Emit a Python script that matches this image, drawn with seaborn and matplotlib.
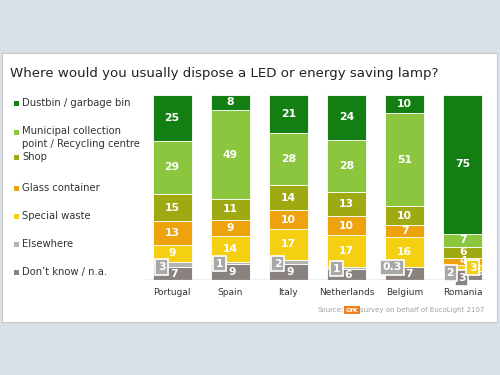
import numpy as np
import pandas as pd
import seaborn as sns
import matplotlib.pyplot as plt
from matplotlib.patches import Rectangle

countries = ["Portugal", "Spain", "Italy", "Netherlands", "Belgium", "Romania"]
# stacked from bottom to top
categories = ["Don\u2019t know / n.a.", "Elsewhere", "Special waste", "Glass container",
              "Shop", "Municipal collection\npoint / Recycling centre", "Dustbin / garbage bin"]
dont_know = [7, 9, 9, 6, 7, 3]
elsewhere = [3, 1, 2, 1, 0.3, 2]
special_waste = [9, 14, 17, 17, 16, 3]
glass = [13, 9, 10, 10, 7, 4]
shop = [15, 11, 14, 13, 10, 6]
municipal = [29, 49, 28, 28, 51, 7]
dustbin = [25, 8, 21, 24, 10, 75]
colors = ["#8a827e", "#b3b3b3", "#f4cf12", "#eea20c", "#9faa12", "#8cc63e", "#137f13"]

values = [dont_know, elsewhere, special_waste, glass, shop, municipal, dustbin]
df = pd.DataFrame({c: v for c, v in zip(categories, values)}, index=countries)
# bars are drawn as 100% stacks, labels keep the survey values
share = df.div(df.sum(axis=1), axis=0) * 100

sns.set_style("white")
fig = plt.figure(figsize=(5, 3.75), dpi=100, facecolor="#d9e0e8")
# white slide panel
fig.patches.append(Rectangle((2 / 500, 1 - 322 / 375), 495 / 500, 269 / 375,
                             transform=fig.transFigure, facecolor="white",
                             edgecolor="#c9c9c9", lw=0.8, zorder=-5))
fig.text(10 / 500, 1 - 73 / 375, "Where would you usually dispose a LED or energy saving lamp?",
         fontsize=9.6, color="#222222", va="center", ha="left")

ax = fig.add_axes([143 / 500, 1 - 280 / 375, 349 / 500, 185 / 375])
ax.patch.set_alpha(0)
bottom = np.zeros(len(countries))
for cat, col in zip(categories, colors):
    sns.barplot(x=countries, y=share[cat].values, bottom=bottom, color=col, width=0.67,
                edgecolor="white", linewidth=0.6, ax=ax, saturation=1)
    bottom = bottom + share[cat].values
ax.set_xlim(-0.5, 5.5)
ax.set_ylim(0, 100)
ax.axhline(0, xmin=0.005, xmax=0.98, color="#b0b0b0", lw=1)
for s in ax.spines.values():
    s.set_visible(False)
ax.set_yticks([])
ax.tick_params(axis="x", length=0, labelsize=6.5, labelcolor="#333333", pad=6)

lab = dict(color="white", fontsize=7.8, fontweight="bold", ha="center", va="center")
box = dict(boxstyle="square,pad=0.25", fc="#a8a8a8", ec="white", lw=1.2)
for i, c in enumerate(countries):
    base = 0.0
    for k, cat in enumerate(categories):
        v = df.loc[c, cat]
        h = share.loc[c, cat]
        mid = base + h / 2
        if c == "Romania" and k <= 2:
            if k == 0:
                ax.text(i - 0.02, 1.1, f"{v:g}", bbox=dict(box, fc="#8a827e"), **lab)
            elif k == 1:
                ax.text(i - 0.22, 3.8, f"{v:g}", bbox=box, **lab)
            else:
                ax.text(i + 0.17, 6.6, f"{v:g}", bbox=dict(box, fc="#f4cf12"), **lab)
        elif k == 1:
            ax.text(i - 0.18 - (0.04 if v < 1 else 0), base, f"{v:g}", bbox=box, **lab)
        elif k == 0:
            ax.text(i + (0.07 if v > 0 and elsewhere[i] < 1 else 0.03), mid - 0.3, f"{v:g}", **lab)
        else:
            ax.text(i, mid, f"{v:g}", **lab)
        base += h

# legend on the left
leg_y = [103, 133, 157, 188, 216, 244, 272]
for cat, col, y in zip(categories[::-1], colors[::-1], leg_y):
    fig.patches.append(Rectangle((14 / 500, 1 - (y + 2.5) / 375), 5 / 500, 5 / 375,
                                 transform=fig.transFigure, facecolor=col, edgecolor="none"))
    fig.text(22 / 500, 1 - y / 375, cat, fontsize=7.2, color="#333333",
             va="top" if "\n" in cat else "center", ha="left",
             linespacing=1.35)
# fix the two-line entry to start at its marker row
for t in fig.texts:
    if "\n" in t.get_text():
        t.set_y(1 - 126.5 / 375)

fig.text(344 / 500, 1 - 310 / 375, "Source:", fontsize=5, color="#a0a0a0", ha="right", va="center")
fig.text(352 / 500, 1 - 310 / 375, "GfK", fontsize=4.5, color="white", ha="center", va="center",
         fontweight="bold", bbox=dict(boxstyle="square,pad=0.25", fc="#ee7f1a", ec="none"))
fig.text(360 / 500, 1 - 310 / 375, "survey on behalf of EucoLight 2107", fontsize=5,
         color="#a0a0a0", ha="left", va="center")

fig.savefig("out.png", dpi=100, facecolor=fig.get_facecolor())
